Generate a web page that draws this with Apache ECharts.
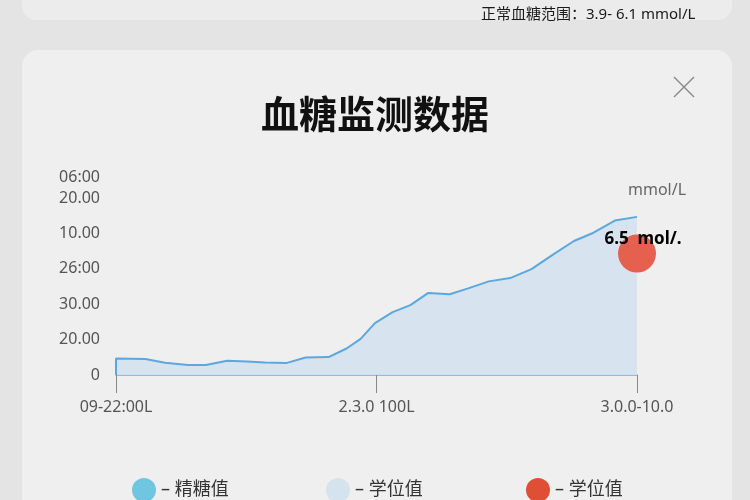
<!DOCTYPE html>
<html><head><meta charset="utf-8">
<script src="https://cdn.jsdelivr.net/npm/echarts@6/dist/echarts.min.js"></script>
<style>html,body{margin:0;padding:0;background:#e4e4e4;}#c{width:750px;height:500px;}</style>
</head><body><div id="c"></div>
<script>
const xTickLabels = ['09-22:00L', '2.3.0 100L', '3.0.0-10.0'];
const yTickLabels = ['0', '20.00', '30.00', '26:00', '10.00', '20.00'];
const yTopLabel = '06:00';
const unitLabel = 'mmol/L';
const xPos = [0, 0, 0.113, 0.188, 0.277, 0.345, 0.427, 0.502, 0.571, 0.653, 0.728, 0.816, 0.885, 0.939, 0.994, 1.062, 1.130, 1.199, 1.281, 1.349, 1.431, 1.513, 1.595, 1.676, 1.758, 1.833, 1.915, 2.0];
const glucose = [0, 0.467, 0.449, 0.346, 0.280, 0.280, 0.402, 0.383, 0.355, 0.336, 0.495, 0.505, 0.748, 1.019, 1.467, 1.776, 1.972, 2.318, 2.280, 2.439, 2.645, 2.738, 2.991, 3.393, 3.785, 4.019, 4.364, 4.467];
const markerX = 2.0;
const markerY = 3.43;
const markerLabel = '6.5  mol/.';
const legendNames = ['精糖值', '学位值', '学位值 '];
const titleText = '血糖监测数据';
const rangeText = '正常血糖范围：3.9- 6.1 mmol/L';

const chart = echarts.init(document.getElementById('c'));
const font = "'Noto Sans', 'Noto Sans CJK SC', sans-serif";
const legendBase = {
  icon: 'circle', itemWidth: 24, itemHeight: 24, itemGap: 0, top: 473,
  textStyle: {fontSize: 18, color: '#333', fontFamily: font},
  formatter: n => '– ' + n.trim()
};
chart.setOption({
  backgroundColor: '#e4e4e4',
  animation: false,
  graphic: [
    {type: 'rect', shape: {x: 22, y: -30, width: 710, height: 50, r: 14}, style: {fill: '#ececec'}, z: -10},
    {type: 'rect', shape: {x: 22, y: 50, width: 710, height: 480, r: 16}, style: {fill: '#efefef'}, z: -10},
    {type: 'text', left: 481, top: 7, style: {text: rangeText, fontSize: 15, fill: '#1a1a1a', fontFamily: font}},
    {type: 'text', left: 'center', top: 95, style: {text: titleText, fontSize: 38, fontWeight: 'bold', fill: '#111', fontFamily: "'Noto Sans CJK SC', sans-serif"}},
    {type: 'line', shape: {x1: 674, y1: 77, x2: 694, y2: 97}, style: {stroke: '#8a8a8a', lineWidth: 1.5}},
    {type: 'line', shape: {x1: 694, y1: 77, x2: 674, y2: 97}, style: {stroke: '#8a8a8a', lineWidth: 1.5}},
    {type: 'text', right: 650, top: 169, style: {text: yTopLabel, fontSize: 16, fill: '#555', fontFamily: font, align: 'right'}},
    {type: 'text', left: 628, top: 182, style: {text: unitLabel, fontSize: 16, fill: '#666', fontFamily: font}}
  ],
  grid: {left: 116, right: 113, top: 198, bottom: 125},
  xAxis: {
    type: 'value', min: 0, max: 2, interval: 1,
    axisLine: {show: true, onZero: false, lineStyle: {color: '#6aaee0', width: 1.5}},
    axisTick: {show: true, length: 18, lineStyle: {color: '#888'}},
    axisLabel: {margin: 24, fontSize: 16, color: '#555', fontFamily: font, formatter: v => xTickLabels[Math.round(v)]},
    splitLine: {show: false}
  },
  yAxis: {
    type: 'value', min: 0, max: 5, interval: 1,
    axisLine: {show: false}, axisTick: {show: false},
    axisLabel: {margin: 16, fontSize: 16, color: '#555', fontFamily: font, formatter: v => yTickLabels[Math.round(v)]},
    splitLine: {show: false}
  },
  legend: [
    Object.assign({}, legendBase, {left: 127, data: [{name: legendNames[0], itemStyle: {color: '#6ec6e0'}}]}),
    Object.assign({}, legendBase, {left: 321, data: [{name: legendNames[1], itemStyle: {color: '#d5e3ee'}}]}),
    Object.assign({}, legendBase, {left: 521, data: [{name: legendNames[2], itemStyle: {color: '#de4f36'}}]})
  ],
  series: [
    {
      name: legendNames[0], type: 'line', symbol: 'none',
      data: xPos.map((x, i) => [x, glucose[i]]),
      lineStyle: {color: '#5ba8de', width: 2},
      itemStyle: {color: '#6ec6e0'},
      areaStyle: {color: '#d4e2ee', opacity: 0.9}
    },
    {name: legendNames[1], type: 'line', data: [], itemStyle: {color: '#d5e3ee'}},
    {
      name: legendNames[2], type: 'scatter', symbolSize: 38,
      data: [[markerX, markerY]],
      itemStyle: {color: '#e5604f', opacity: 1},
      label: {show: true, formatter: markerLabel, position: 'inside', offset: [6, -14], fontSize: 17, fontWeight: 'bold', color: '#000', fontFamily: font},
      z: 5
    }
  ]
});
</script></body></html>
